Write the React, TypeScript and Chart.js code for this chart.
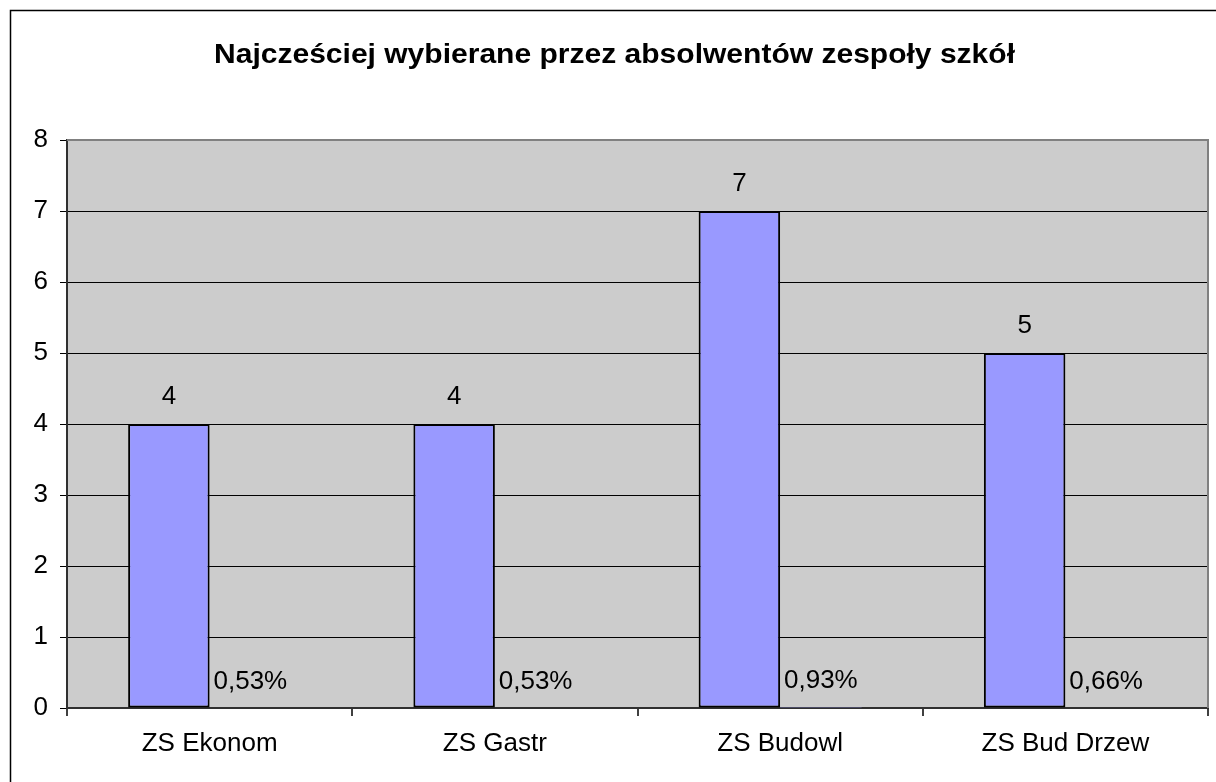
import React, { useEffect, useRef } from "react";
import { Chart, registerables } from "chart.js";

Chart.register(...registerables);

const TITLE = "Najcześciej wybierane przez absolwentów zespoły szkół";
const categories = ["ZS Ekonom", "ZS Gastr", "ZS Budowl", "ZS Bud Drzew"];
const counts = [4, 4, 7, 5];
const sharePercent = [0.53, 0.53, 0.93, 0.66];
const yTicks = [0, 1, 2, 3, 4, 5, 6, 7, 8];

const FONT = "'Liberation Sans', Arial, sans-serif";
const LABEL_SIZE = 26;

const decorPlugin = {
  id: "decor",
  beforeDraw(chart: any) {
    const { ctx, chartArea } = chart;
    ctx.save();
    ctx.fillStyle = "#ffffff";
    ctx.fillRect(0, 0, chart.width, chart.height);
    ctx.fillStyle = "#CCCCCC";
    ctx.fillRect(chartArea.left, chartArea.top, chartArea.right - chartArea.left, chartArea.bottom - chartArea.top);
    // outer frame
    ctx.strokeStyle = "#000000";
    ctx.lineWidth = 1.5;
    ctx.strokeRect(10.5, 10.5, 1400, 1000);
    // title
    ctx.fillStyle = "#000000";
    ctx.font = `bold 28px ${FONT}`;
    ctx.textAlign = "left";
    ctx.textBaseline = "alphabetic";
    const w = ctx.measureText(TITLE).width;
    const target = 801;
    ctx.translate(214, 63);
    ctx.scale(target / w, 1);
    ctx.fillText(TITLE, 0, 0);
    ctx.restore();
  },
  afterDatasetsDraw(chart: any) {
    const { ctx, chartArea } = chart;
    ctx.save();
    // gray top and right border of plot area
    ctx.strokeStyle = "#808080";
    ctx.lineWidth = 2;
    ctx.beginPath();
    ctx.moveTo(chartArea.left, chartArea.top);
    ctx.lineTo(chartArea.right, chartArea.top);
    ctx.lineTo(chartArea.right, chartArea.bottom);
    ctx.stroke();
    // labels
    ctx.fillStyle = "#000000";
    ctx.font = `${LABEL_SIZE}px ${FONT}`;
    ctx.textAlign = "center";
    ctx.textBaseline = "alphabetic";
    const m0 = chart.getDatasetMeta(0);
    m0.data.forEach((bar: any, i: number) => {
      ctx.fillText(String(counts[i]), bar.x, bar.y - 20);
    });
    const m1 = chart.getDatasetMeta(1);
    m1.data.forEach((bar: any, i: number) => {
      const txt = sharePercent[i].toFixed(2).replace(".", ",") + "%";
      ctx.fillText(txt, bar.x, bar.y - 19);
    });
    ctx.restore();
  },
};

export default function App() {
  const ref = useRef<HTMLCanvasElement | null>(null);
  useEffect(() => {
    document.body.style.margin = "0";
    const chart = new Chart(ref.current as HTMLCanvasElement, {
      type: "bar",
      data: {
        labels: categories,
        datasets: [
          {
            label: "Liczba",
            data: counts,
            backgroundColor: "#9999FF",
            borderColor: "#000000",
            borderWidth: 2,
            borderSkipped: false,
            categoryPercentage: 2 / 3.5,
            barPercentage: 1,
          },
          {
            label: "Udział",
            data: sharePercent.map((v) => v / 100),
            backgroundColor: "#9999FF",
            borderWidth: 0,
            categoryPercentage: 2 / 3.5,
            barPercentage: 1,
          },
        ],
      },
      options: {
        animation: false,
        responsive: false,
        devicePixelRatio: 1,
        layout: { padding: { top: 140, right: 8, left: 0, bottom: 0 } },
        plugins: {
          legend: { display: false },
          title: { display: false },
          tooltip: { enabled: false },
        },
        scales: {
          x: {
            grid: {
              display: true,
              drawOnChartArea: false,
              drawTicks: true,
              tickLength: 8,
              color: "#404040",
              lineWidth: 2,
              offset: true,
            },
            border: { display: true, color: "#303030", width: 2 },
            ticks: {
              color: "#000000",
              font: { family: FONT, size: LABEL_SIZE },
              padding: 12,
              maxRotation: 0,
            },
            afterFit(scale: any) {
              scale.height = 74;
            },
          },
          y: {
            min: 0,
            max: 8,
            afterBuildTicks(scale: any) {
              scale.ticks = yTicks.map((v) => ({ value: v }));
            },
            grid: {
              color: "#000000",
              lineWidth: 1,
              tickLength: 7,
              drawTicks: true,
            },
            border: { display: true, color: "#303030", width: 2 },
            ticks: {
              color: "#000000",
              font: { family: FONT, size: LABEL_SIZE },
              padding: 12,
            },
            afterFit(scale: any) {
              scale.width = 67;
            },
          },
        },
      },
      plugins: [decorPlugin],
    });
    return () => chart.destroy();
  }, []);
  return (
    <div style={{ position: "absolute", left: 0, top: 0, width: 1216, height: 782 }}>
      <canvas ref={ref} width={1216} height={782} style={{ width: 1216, height: 782, display: "block" }} />
    </div>
  );
}
